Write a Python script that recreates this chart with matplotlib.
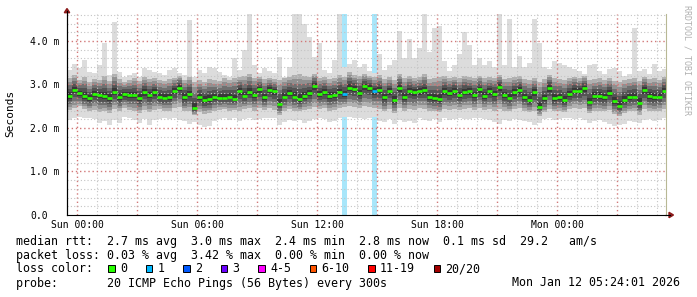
import numpy as np
import matplotlib
matplotlib.use('Agg')
import matplotlib.pyplot as plt
from matplotlib.patches import Rectangle, Polygon
from matplotlib.lines import Line2D

# 15 minute steps, Sat 23:29 .. Mon 05:24 (hours relative to Sun 00:00)
median = [
    2.74, 2.88, 2.80, 2.73, 2.68, 2.79, 2.76, 2.74, 2.70, 2.83, 2.72, 2.78, 2.75, 2.75, 2.70, 2.82, 2.76, 2.82, 2.72, 2.70,
    2.71, 2.86, 2.93, 2.72, 2.78, 2.46, 2.71, 2.64, 2.66, 2.71, 2.70, 2.69, 2.72, 2.67, 2.85, 2.74, 2.83, 2.76, 2.89, 2.71,
    2.88, 2.84, 2.55, 2.72, 2.80, 2.72, 2.66, 2.74, 2.80, 2.97, 2.78, 2.82, 2.74, 2.76, 2.82, 2.78, 2.93, 2.90, 2.80, 2.96,
    2.93, 2.84, 2.87, 2.71, 2.84, 2.64, 2.93, 2.71, 2.84, 2.82, 2.84, 2.87, 2.71, 2.69, 2.67, 2.84, 2.80, 2.85, 2.76, 2.83,
    2.84, 2.76, 2.89, 2.74, 2.84, 2.78, 2.95, 2.76, 2.70, 2.82, 2.87, 2.71, 2.64, 2.82, 2.49, 2.68, 2.93, 2.68, 2.71, 2.64,
    2.78, 2.86, 2.86, 2.91, 2.60, 2.74, 2.74, 2.71, 2.80, 2.61, 2.51, 2.64, 2.71, 2.72, 2.58, 2.87, 2.74, 2.71, 2.72, 2.86]

ping_max = [
    3.33, 3.48, 3.37, 3.56, 3.29, 3.26, 3.45, 3.95, 3.22, 4.44, 3.29, 3.18, 3.22, 3.26, 3.18, 3.37, 3.33, 3.29, 3.26, 3.22,
    3.33, 3.37, 3.26, 3.22, 4.48, 3.18, 3.33, 3.26, 3.41, 3.37, 3.29, 3.22, 3.18, 3.60, 3.33, 3.79, 4.70, 3.45, 3.26, 3.37,
    3.30, 3.26, 3.64, 3.18, 3.40, 4.70, 4.70, 4.40, 4.10, 3.64, 3.95, 3.33, 3.26, 3.56, 4.70, 3.40, 3.48, 3.56, 3.41, 3.48,
    3.30, 3.26, 3.70, 3.33, 3.45, 3.56, 4.23, 3.60, 4.05, 3.60, 3.85, 4.70, 3.75, 4.30, 4.35, 3.55, 3.30, 3.45, 3.70, 4.20,
    3.90, 3.45, 3.60, 3.45, 3.55, 3.40, 4.70, 3.45, 4.50, 3.40, 3.65, 3.41, 3.50, 4.50, 3.95, 3.40, 3.35, 3.55, 3.50, 3.45,
    3.40, 3.35, 3.30, 3.25, 3.45, 3.48, 3.30, 3.25, 3.35, 3.37, 3.30, 3.20, 3.25, 4.30, 3.30, 3.35, 3.25, 3.48, 3.30, 3.35]

ping_min = [
    2.18, 2.22, 2.26, 2.24, 2.22, 2.20, 2.11, 2.16, 2.07, 2.18, 2.12, 2.26, 2.22, 2.18, 2.11, 2.20, 2.07, 2.18, 2.20, 2.22,
    2.20, 2.22, 2.18, 2.15, 2.10, 2.14, 2.08, 2.02, 2.05, 2.15, 2.20, 2.24, 2.18, 2.22, 2.16, 2.20, 2.24, 2.18, 2.20, 2.22,
    2.24, 2.22, 2.06, 2.14, 2.18, 2.16, 2.18, 2.12, 2.15, 2.20, 2.22, 2.20, 2.14, 2.16, 2.24, 2.26, 2.26, 2.24, 2.22, 2.20,
    2.22, 2.26, 2.16, 2.14, 2.20, 2.10, 2.18, 2.14, 2.16, 2.12, 2.22, 2.18, 2.16, 2.20, 2.14, 2.22, 2.18, 2.20, 2.24, 2.20,
    2.20, 2.22, 2.22, 2.20, 2.18, 2.14, 2.10, 2.18, 2.16, 2.20, 2.18, 2.16, 2.14, 2.08, 2.12, 2.20, 2.22, 2.18, 2.20, 2.22,
    2.22, 2.20, 2.22, 2.18, 2.12, 2.16, 2.18, 2.14, 2.10, 2.04, 2.06, 2.10, 2.16, 2.14, 2.12, 2.18, 2.20, 2.16, 2.18, 2.22]

ping_hi = [
    3.15, 3.22, 3.10, 3.18, 3.05, 3.12, 3.10, 3.20, 3.08, 3.25, 3.12, 3.05, 3.10, 3.15, 3.08, 3.18, 3.12, 3.15, 3.10, 3.08,
    3.12, 3.15, 3.20, 3.10, 3.18, 3.05, 3.10, 3.06, 3.12, 3.10, 3.08, 3.14, 3.10, 3.16, 3.18, 3.20, 3.25, 3.15, 3.18, 3.12,
    3.15, 3.12, 3.10, 3.14, 3.18, 3.22, 3.25, 3.20, 3.18, 3.25, 3.15, 3.18, 3.12, 3.15, 3.22, 3.18, 3.28, 3.22, 3.20, 3.24,
    3.20, 3.18, 3.22, 3.12, 3.18, 3.10, 3.25, 3.15, 3.20, 3.15, 3.18, 3.25, 3.12, 3.15, 3.18, 3.20, 3.15, 3.18, 3.14, 3.20,
    3.18, 3.15, 3.20, 3.14, 3.18, 3.16, 3.22, 3.12, 3.15, 3.18, 3.20, 3.12, 3.10, 3.15, 3.05, 3.12, 3.22, 3.14, 3.12, 3.10,
    3.15, 3.18, 3.14, 3.20, 3.10, 3.12, 3.15, 3.10, 3.14, 3.08, 3.05, 3.10, 3.12, 3.15, 3.08, 3.18, 3.12, 3.14, 3.10, 3.18]

ping_lo = [
    2.42, 2.45, 2.50, 2.44, 2.40, 2.42, 2.36, 2.40, 2.35, 2.44, 2.38, 2.46, 2.42, 2.40, 2.34, 2.42, 2.36, 2.42, 2.44, 2.40,
    2.40, 2.46, 2.48, 2.38, 2.40, 2.30, 2.36, 2.32, 2.34, 2.40, 2.42, 2.44, 2.40, 2.42, 2.40, 2.44, 2.46, 2.40, 2.45, 2.42,
    2.45, 2.42, 2.30, 2.40, 2.44, 2.40, 2.38, 2.42, 2.44, 2.48, 2.44, 2.46, 2.40, 2.42, 2.46, 2.48, 2.50, 2.48, 2.46, 2.50,
    2.48, 2.46, 2.44, 2.38, 2.44, 2.34, 2.46, 2.40, 2.44, 2.42, 2.46, 2.44, 2.40, 2.38, 2.36, 2.44, 2.42, 2.44, 2.42, 2.44,
    2.46, 2.42, 2.46, 2.42, 2.44, 2.40, 2.44, 2.40, 2.38, 2.44, 2.46, 2.40, 2.36, 2.40, 2.28, 2.36, 2.44, 2.38, 2.40, 2.36,
    2.44, 2.46, 2.44, 2.46, 2.34, 2.40, 2.40, 2.38, 2.42, 2.32, 2.28, 2.34, 2.38, 2.40, 2.30, 2.44, 2.40, 2.38, 2.40, 2.44]

loss_idx = [55, 61]
loss_pings = [1, 1]

x_ticks = [0, 6, 12, 18, 24]
x_labels = ['Sun 00:00', 'Sun 06:00', 'Sun 12:00', 'Sun 18:00', 'Mon 00:00']
y_ticks = [0, 1, 2, 3, 4]
y_labels = ['0.0', '1.0 m', '2.0 m', '3.0 m', '4.0 m']

loss_labels = ['0', '1', '2', '3', '4-5', '6-10', '11-19', '20/20']
loss_colors = ['#26ff00', '#00b8ff', '#0059ff', '#6a00ff', '#ff00ff', '#ff5500', '#ff0000', '#a10000']
loss_back = {1: '#a8e6fa'}

rtt_line = 'median rtt:  2.7 ms avg  3.0 ms max  2.4 ms min  2.8 ms now  0.1 ms sd  29.2   am/s'
loss_line = 'packet loss: 0.03 % avg  3.42 % max  0.00 % min  0.00 % now'
probe_line = 'probe:       20 ICMP Echo Pings (56 Bytes) every 300s'
stamp = 'Mon Jan 12 05:24:01 2026'

plt.rcParams['font.family'] = 'DejaVu Sans Mono'

W, H = 697, 297
fig = plt.figure(figsize=(W / 100, H / 100), dpi=100)
fig.patch.set_facecolor('white')

def fx(x):
    return x / W

def fy(y):
    return 1 - y / H

ax = fig.add_axes([fx(67), fy(215), fx(665.7) - fx(67), fy(14) - fy(215)])
x0, x1 = -0.515, 29.42
ax.set_xlim(x0, x1)
ax.set_ylim(0, 4.62)

n = len(median)
edges = np.linspace(x0, x1 + 0.06, n + 1)
med = np.array(median)

def ext(a):
    a = np.asarray(a, dtype=float)
    return np.append(a, a[-1])

# loss background bars
for i, p in zip(loss_idx, loss_pings):
    ax.axvspan(edges[i], edges[i + 1], color=loss_back[p], lw=0, zorder=0.5)

# smoke
ax.fill_between(edges, ext(ping_min), ext(ping_max), step='post', color='#dcdcdc', lw=0, zorder=1)
hi = np.array(ping_hi)
lo = np.array(ping_lo)
shades = [(1.0, '#b0b0b0'), (0.8, '#909090'), (0.6, '#707070'), (0.4, '#535353'), (0.2, '#383838')]
for f, c in shades:
    ax.fill_between(edges, ext(med - f * (med - lo)), ext(med + f * (hi - med)),
                    step='post', color=c, lw=0, zorder=1.5)

# grid
dot = (0, (1, 2))
for h in range(0, 30):
    if h % 3 == 0:
        ax.axvline(h, color='#d27878', lw=1.0, ls=dot, zorder=3)
    else:
        ax.axvline(h, color='#c4c4c4', lw=0.8, ls=dot, zorder=3)
for k in range(1, 24):
    if k % 5 == 0:
        ax.axhline(k * 0.2, color='#d27878', lw=1.0, ls=dot, zorder=3)
    else:
        ax.axhline(k * 0.2, color='#c4c4c4', lw=0.8, ls=dot, zorder=3)

# median, coloured by loss
med_colors = ['#26ff00'] * n
for i, p in zip(loss_idx, loss_pings):
    med_colors[i] = loss_colors[p]
ax.hlines(med, edges[:-1], edges[1:], colors=med_colors, lw=1.9, zorder=4)

ax.set_xticks(x_ticks)
ax.set_xticklabels(x_labels, fontsize=7)
ax.set_yticks(y_ticks)
ax.set_yticklabels(y_labels, fontsize=7)
for lbl in ax.get_yticklabels():
    lbl.set_ha('left')
ax.tick_params(axis='y', length=0, pad=26.6)
ax.tick_params(axis='x', length=0, pad=3.5)

ax.spines['top'].set_visible(False)
ax.spines['right'].set_color('#b8b894')
ax.spines['right'].set_linewidth(0.8)
for s in ('left', 'bottom'):
    ax.spines[s].set_color('black')
    ax.spines[s].set_linewidth(0.8)
    ax.spines[s].set_zorder(5)

# axis extensions and arrows
fig.add_artist(Line2D([fx(67), fx(67)], [fy(215), fy(11)], color='black', lw=0.8))
fig.add_artist(Line2D([fx(665), fx(670)], [fy(215), fy(215)], color='black', lw=0.8))
arrow = '#8b1a1a'
fig.add_artist(Polygon([(fx(64.3), fy(12.7)), (fx(69.7), fy(12.7)), (fx(67), fy(8.5))],
                       closed=True, color=arrow, transform=fig.transFigure))
fig.add_artist(Polygon([(fx(669), fy(212.3)), (fx(669), fy(217.7)), (fx(673.5), fy(215))],
                       closed=True, color=arrow, transform=fig.transFigure))

fig.text(fx(10.5), fy(113), 'Seconds', rotation=90, fontsize=8, ha='center', va='center')
fig.text(fx(687.5), fy(60), 'RRDTOOL / TOBI OETIKER', rotation=270, fontsize=6,
         ha='center', va='center', color='#b0b0b0')

# legend block
ts = 8.4
fig.text(fx(16), fy(241), rtt_line, fontsize=ts, va='center')
fig.text(fx(16), fy(255), loss_line, fontsize=ts, va='center')
fig.text(fx(16), fy(269), 'loss color:', fontsize=ts, va='center')
sx = 108
for lab, col in zip(loss_labels, loss_colors):
    fig.add_artist(Rectangle((fx(sx), fy(271.5)), 6.8 / W, 6.8 / H, transform=fig.transFigure,
                             facecolor=col, edgecolor='black', lw=0.7))
    fig.text(fx(sx + 12), fy(269), lab, fontsize=ts, va='center')
    sx += 30.5 + 7 * len(lab)
fig.text(fx(16), fy(283), probe_line, fontsize=ts, va='center')
fig.text(fx(680), fy(283), stamp, fontsize=ts, va='center', ha='right')

fig.savefig('out.png', dpi=100, facecolor='white')
